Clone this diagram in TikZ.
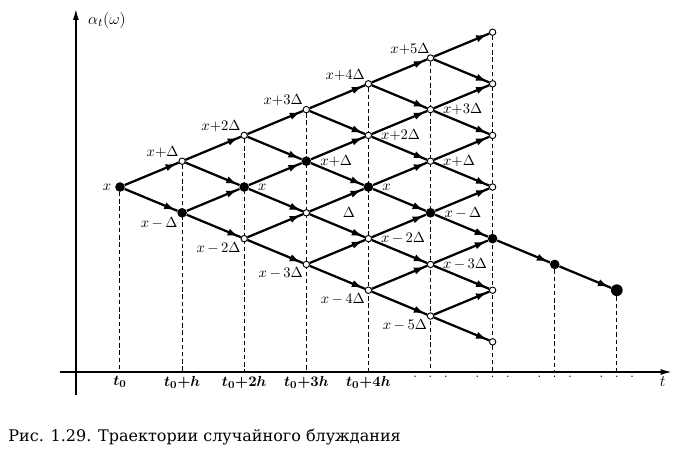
\documentclass[tikz,border=0pt]{standalone}
\usepackage{fontspec}
\newfontfamily\capfont{DejaVu Serif}
\usetikzlibrary{arrows.meta, positioning, backgrounds, decorations.markings}
\tikzset{
  ring/.style={circle, draw, fill=white, line width=0.7pt, inner sep=0pt, minimum size=4.8pt},
  dot/.style={circle, fill, inner sep=0pt, minimum size=7.2pt},
  bigdot/.style={dot, minimum size=8.8pt},
  jump/.style={line width=1.7pt, postaction={decorate, decoration={markings,
      mark=at position -1.5pt with {\arrow{Latex[length=8.5pt, width=5.5pt]}}}}},
  guide/.style={dashed, dash pattern=on 3.2pt off 2.2pt, line width=0.75pt},
  axis/.style={line width=1.5pt, -{Latex[length=9pt, width=4.5pt]}},
  lab/.style={inner sep=0.5pt, font=\fontsize{11}{13}\selectfont},
  tick/.style={inner sep=1pt, font=\fontsize{11}{13}\selectfont\boldmath},
}

\begin{document}
\begin{tikzpicture}[x=46.575pt, y=19.35pt]
  \useasboundingbox (-1.932,-10.271) rectangle (9.114,7.248);

  % axes
  \coordinate (ybot) at (-0.71,-8.06);
  \coordinate (ytop) at (-0.71,6.94);
  \coordinate (xleft) at (-0.97,-7.17);
  \coordinate (xright) at (8.9,-7.17);
  \draw[axis] (ybot) -- (ytop);
  \draw[axis] (xleft) -- (xright);
  \node[lab, font=\fontsize{13}{15}\selectfont] (alab) at (-0.21,6.47) {$\alpha_t(\omega)$};
  \node[lab, font=\fontsize{13}{15}\selectfont] (tlab) at (8.74,-7.56) {$t$};

  % lattice of states, \f = the state on the drawn path
  \foreach \i/\f in {0/0,1/0,2/1,3/2,4/2,5/2,6/2}{
    \foreach \k in {0,...,\i}{
      \pgfmathtruncatemacro\lv{2*\k-\i}
      \ifnum\k=\f \node[dot] (n-\i-\k) at (\i,\lv) {};
      \else \node[ring] (n-\i-\k) at (\i,\lv) {}; \fi
    }
  }
  \node[dot] (p7) at (7,-3) {};
  \node[bigdot] (p8) at (8,-4) {};

  % moves up and down
  \foreach \i in {0,...,5}{
    \pgfmathtruncatemacro\nx{\i+1}
    \foreach \k in {0,...,\i}{
      \pgfmathtruncatemacro\up{\k+1}
      \draw[jump] (n-\i-\k) -- (n-\nx-\k);
      \draw[jump] (n-\i-\k) -- (n-\nx-\up);
    }
  }
  \draw[jump] (n-6-2) -- (p7);
  \draw[jump] (p7) -- (p8);

  % drop lines to the time axis
  \foreach \i in {0,...,8} \coordinate (f-\i) at (\i,-7.17);
  \begin{scope}[on background layer]
    \foreach \i in {0,...,6} \draw[guide] (n-\i-\i) -- (f-\i);
    \draw[guide] (p7) -- (f-7);
    \draw[guide] (p8) -- (f-8);
  \end{scope}

  % state labels
  \node[lab, left=2pt of n-0-0] (l00) {$x$};
  \node[lab, above left=0pt of n-1-1] (l11) {$x{+}\Delta$};
  \node[lab, above left=0pt of n-2-2] (l22) {$x{+}2\Delta$};
  \node[lab, above left=0pt of n-3-3] (l33) {$x{+}3\Delta$};
  \node[lab, above left=0pt of n-4-4] (l44) {$x{+}4\Delta$};
  \node[lab, above left=0pt and -2pt of n-5-5] (l55) {$x{+}5\Delta$};
  \node[lab, right=6pt of n-2-1] (l21) {$x$};
  \node[lab, right=6pt of n-3-2] (l32) {$x{+}\Delta$};
  \node[lab, right=6pt of n-4-3] (l43) {$x{+}2\Delta$};
  \node[lab, right=6pt of n-4-2] (l42) {$x$};
  \node[lab, right=6pt of n-5-4] (l54) {$x{+}3\Delta$};
  \node[lab, right=6pt of n-5-3] (l53) {$x{+}\Delta$};
  \node[lab, right=6pt of n-5-2] (l52) {$x\,{-}\,\Delta$};
  \node[lab, right=6pt of n-4-1] (l41) {$x\,{-}\,2\Delta$};
  \node[lab, right=6pt of n-5-1] (l51) {$x\,{-}\,3\Delta$};
  \node[lab, right=24pt of n-3-1] (l31) {$\Delta$};
  \node[lab, below left=0pt of n-1-0] (l10) {$x\,{-}\,\Delta$};
  \node[lab, below left=0pt of n-2-0] (l20) {$x\,{-}\,2\Delta$};
  \node[lab, below left=0pt of n-3-0] (l30) {$x\,{-}\,3\Delta$};
  \node[lab, below left=0pt of n-4-0] (l40) {$x\,{-}\,4\Delta$};
  \node[lab, below left=0pt of n-5-0] (l50) {$x\,{-}\,5\Delta$};

  % time labels
  \node[tick, below=2pt of f-0] (t0) {$t_0$};
  \node[tick, below=2pt of f-1] (t1) {$t_0{+}h$};
  \node[tick, below=2pt of f-2] (t2) {$t_0{+}2h$};
  \node[tick, below=2pt of f-3] (t3) {$t_0{+}3h$};
  \node[tick, below=2pt of f-4] (t4) {$t_0{+}4h$};
  \foreach \i in {5,...,8}
    \node[tick, below=2pt of f-\i] (d-\i) {.\hskip8.5pt.\hskip8.5pt.};

  \node[anchor=west, inner sep=0pt, font=\capfont\fontsize{12}{14}\selectfont] (cap) at (-1.80,-9.69)
    {Рис. 1.29. Траектории случайного блуждания};

\end{tikzpicture}
\end{document}
